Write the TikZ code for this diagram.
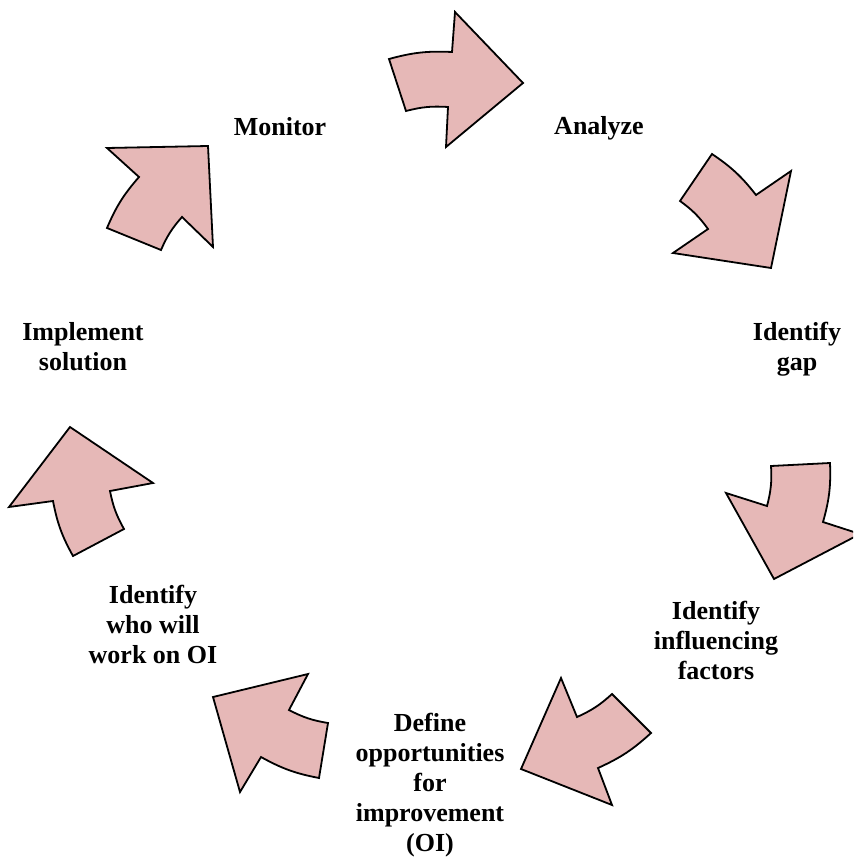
\documentclass[tikz,border=0pt]{standalone}
\usepackage{fontspec}
\setmainfont{Liberation Serif}
\usepackage{xcolor}
\definecolor{arrowpink}{HTML}{E6B8B7}
\tikzset{
	blockarrow/.style={draw=black, fill=arrowpink, line width=0.9pt, line join=miter},
	steplabel/.style={align=center, inner sep=0pt,
			font=\bfseries\fontsize{13}{15}\selectfont}
}

\begin{document}
\begin{tikzpicture}[x=0.5pt, y=-0.5pt]
	\useasboundingbox (0, 0) rectangle (853, 861);
	\clip (0, 0) rectangle (853, 861);

	% the seven steps, clockwise from the top
	\node[steplabel] (monitor)   at (280, 127) {Monitor};
	\node[steplabel] (analyze)   at (599, 128) {Analyze};
	\node[steplabel] (gap)       at (797, 349) {Identify\\gap};
	\node[steplabel] (factors)   at (716, 640) {Identify\\influencing\\factors};
	\node[steplabel] (define)    at (430, 785) {Define\\opportunities\\for\\improvement\\(OI)};
	\node[steplabel] (who)       at (153, 624) {Identify\\who will\\work on OI};
	\node[steplabel] (implement) at (83, 347)  {Implement\\solution};

	% curved block arrows between the steps
	\draw[blockarrow]	(389, 59) to[bend left=9] (452, 52) -- (455, 12) -- (523, 83)
		-- (446, 147) -- (448, 107) to[bend right=9] (406, 111) -- cycle;
	\draw[blockarrow]	(712, 154) to[bend left=9] (756, 195) -- (791, 171) -- (771, 268)
		-- (673, 253) -- (708, 229) to[bend right=9] (680, 201) -- cycle;
	\draw[blockarrow]	(830, 463) to[bend left=9] (823, 522) -- (860, 534) -- (774, 579)
		-- (726, 493) -- (767, 506) to[bend right=9] (771, 466) -- cycle;
	\draw[blockarrow]	(651, 733) to[bend left=9] (598, 768) -- (612, 805) -- (521, 769)
		-- (561, 678) -- (577, 717) to[bend right=9] (612, 694) -- cycle;
	\draw[blockarrow]	(319, 778) to[bend left=9] (261, 757) -- (240, 792) -- (213, 697)
		-- (308, 674) -- (289, 710) to[bend right=9] (328, 723) -- cycle;
	\draw[blockarrow]	(73, 556) to[bend left=9] (53, 501) -- (9, 507) -- (70, 427)
		-- (153, 483) -- (110, 491) to[bend right=9] (124, 529) -- cycle;
	\draw[blockarrow]	(107, 228) to[bend left=9] (139, 177) -- (107, 148) -- (208, 146)
		-- (213, 247) -- (182, 217) to[bend right=9] (161, 250) -- cycle;
\end{tikzpicture}
\end{document}
